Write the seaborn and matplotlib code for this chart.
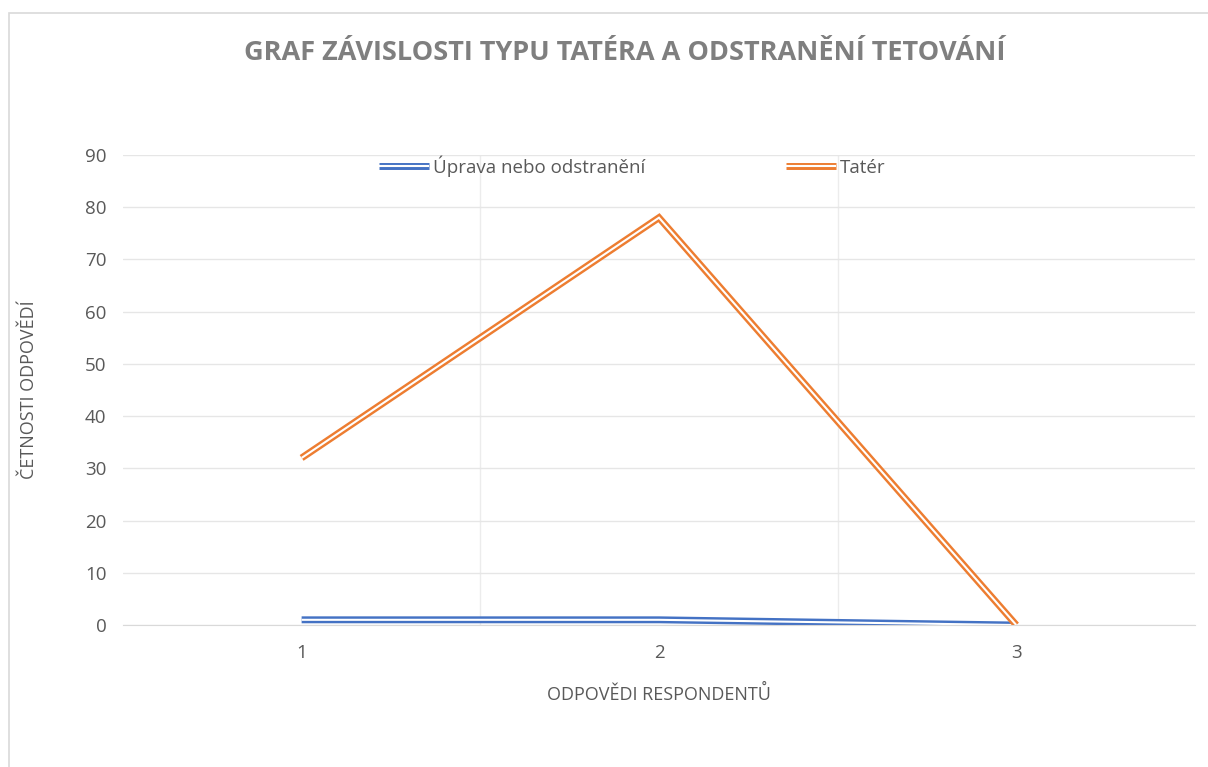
import seaborn as sns
import matplotlib.pyplot as plt
import matplotlib.patheffects as pe
from matplotlib.patches import Rectangle
import pandas as pd

# data
categories = [1, 2, 3]
uprava = [1, 1, 0]
tater = [32, 78, 0]
series_names = ["Úprava nebo odstranění", "Tatér"]
colors = ["#4472C4", "#ED7D31"]

df = pd.DataFrame({
    "pos": list(range(len(categories))) * 2,
    "value": uprava + tater,
    "series": [series_names[0]] * 3 + [series_names[1]] * 3,
})

sns.set_style("white")
plt.rcParams['font.family'] = ['Open Sans', 'DejaVu Sans']
grey = "#595959"

fig = plt.figure(figsize=(12.08, 7.67), dpi=100)
ax = fig.add_axes([0.1018, 0.1851, 0.8874, 0.6128])

# chart area border (Excel style)
fig.patches.append(Rectangle((9 / 1208, -0.05), 1.1, 1 - 13 / 767 + 0.05,
                             transform=fig.transFigure, fill=False,
                             edgecolor="#d9d9d9", linewidth=1.2))

for name, col in zip(series_names, colors):
    sns.lineplot(data=df[df.series == name], x="pos", y="value", ax=ax,
                 color="white", linewidth=1.5, label=name,
                 solid_capstyle="butt", solid_joinstyle="miter",
                 path_effects=[pe.Stroke(linewidth=5.0, foreground=col,
                                         capstyle="butt", joinstyle="miter"),
                               pe.Normal()])

ax.set_xlim(-0.5, 2.5)
ax.set_ylim(0, 90)
ax.set_yticks(range(0, 91, 10))
ax.set_xticks(range(len(categories)))
ax.set_xticklabels([str(c) for c in categories])
ax.set_xticks([0.5, 1.5], minor=True)
ax.grid(axis="y", which="major", color="#e6e6e6", linewidth=1)
ax.grid(axis="x", which="minor", color="#ececec", linewidth=1)
ax.tick_params(axis="both", which="both", length=0, labelsize=13.5, labelcolor=grey)
ax.tick_params(axis="y", pad=12)
ax.tick_params(axis="x", pad=14)
for s in ["left", "right", "top"]:
    ax.spines[s].set_visible(False)
ax.spines["bottom"].set_color("#d9d9d9")
ax.set_axisbelow(True)

ax.set_xlabel("ODPOVĚDI RESPONDENTŮ", fontsize=13, color=grey, labelpad=16)
ax.set_ylabel("ČETNOSTI ODPOVĚDÍ", fontsize=13, color=grey, labelpad=34)

leg = ax.legend(loc="upper center", bbox_to_anchor=(0.475, 1.035), ncol=2, frameon=False,
                fontsize=13.5, columnspacing=7.5, handlelength=2.7, handletextpad=0.2)
for t in leg.get_texts():
    t.set_color(grey)

fig.text(0.517, 0.931, "GRAF ZÁVISLOSTI TYPU TATÉRA A ODSTRANĚNÍ TETOVÁNÍ",
         ha="center", va="center", fontsize=19.5, fontweight="bold", color="#7f7f7f")

fig.savefig("out.png", dpi=100)
